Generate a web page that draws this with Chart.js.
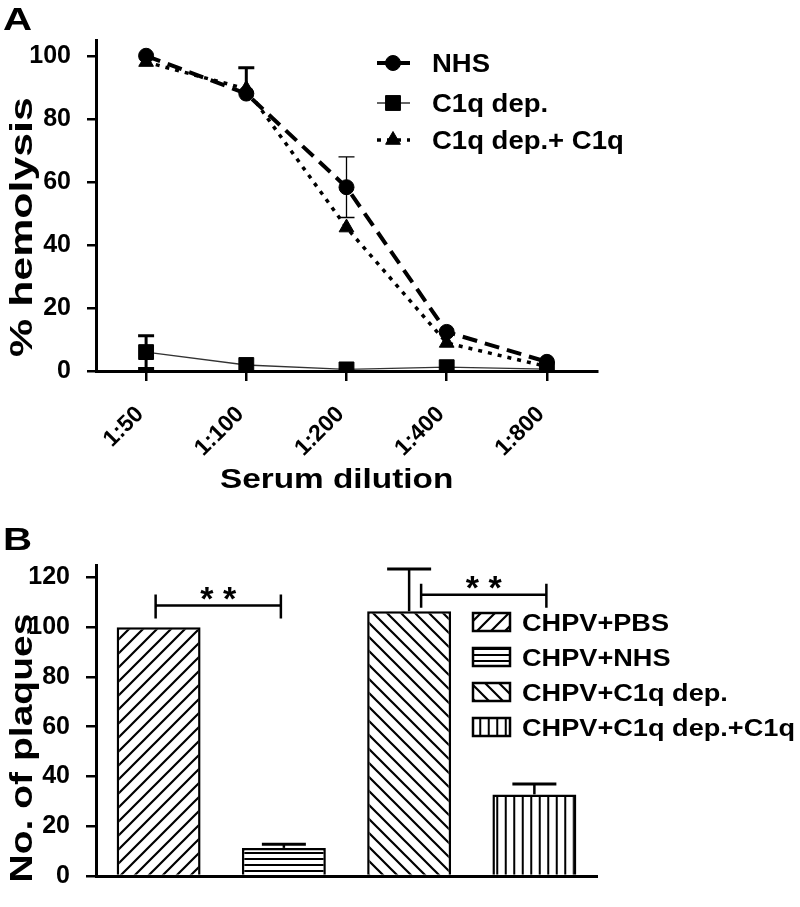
<!DOCTYPE html>
<html>
<head>
<meta charset="utf-8">
<script src="https://cdn.jsdelivr.net/npm/chart.js@4.4.1/dist/chart.umd.min.js"></script>
<style>
  body { margin: 0; background: #fff; }
  #wrapA { position: absolute; left: 0; top: 0; width: 800px; height: 520px; }
  #wrapB { position: absolute; left: 0; top: 520px; width: 800px; height: 387px; }
</style>
</head>
<body>
<div id="wrapA"><canvas id="chartA"></canvas></div>
<div id="wrapB"><canvas id="chartB"></canvas></div>
<script>
// Panel A: % hemolysis by serum dilution
const dilutions = ["1:50", "1:100", "1:200", "1:400", "1:800"];
const nhs = [100, 88, 58.3, 12.4, 2.9];
const c1qDep = [6, 1.9, 0.5, 1.2, 0.6];
const c1qDepC1q = [98, 89.5, 45.5, 8.9, 1.4];
const nhsErr = [0, 0, 9.6, 0, 0];
const c1qDepErr = [5.2, 0, 0, 0, 0];
const c1qDepC1qErrUp = [0, 6.7, 0, 0, 0];
const yTicksA = [0, 20, 40, 60, 80, 100];

// Panel B: number of plaques
const groupsB = ["CHPV+PBS", "CHPV+NHS", "CHPV+C1q dep.", "CHPV+C1q dep.+C1q"];
const plaques = [100, 11.3, 106.4, 32.8];
const plaquesErr = [0, 1.5, 17, 4.2];
const yTicksB = [0, 20, 40, 60, 80, 100, 120];
const sigPairs = [[0, 1, 108.7], [2, 3, 113]]; // bar a, bar b, bracket height

const FONT = '"Liberation Sans", Arial, sans-serif';
const black = "#000";
Chart.defaults.font.family = FONT;
Chart.defaults.color = black;

// bold text, optionally stretched along its length and rotated
function stretchText(ctx, txt, x, y, size, sx, rot, align) {
  ctx.save();
  ctx.translate(x, y);
  if (rot) ctx.rotate(rot);
  ctx.scale(sx, 1);
  ctx.font = "bold " + size + "px " + FONT;
  ctx.textAlign = align || "left";
  ctx.textBaseline = "alphabetic";
  ctx.fillStyle = black;
  ctx.fillText(txt, 0, 0);
  ctx.restore();
}

function makePattern(kind) {
  const c = document.createElement("canvas");
  const s = kind === "horiz" ? 6 : (kind === "vert" ? 17 : 14);
  c.width = s; c.height = s;
  const g = c.getContext("2d");
  g.fillStyle = "#fff";
  g.fillRect(0, 0, s, s);
  g.strokeStyle = black;
  g.lineWidth = 2.2;
  g.beginPath();
  if (kind === "fwd") {
    g.moveTo(-2, s + 2); g.lineTo(s + 2, -2);
    g.moveTo(-2, 2); g.lineTo(2, -2);
    g.moveTo(s - 2, s + 2); g.lineTo(s + 2, s - 2);
  } else if (kind === "back") {
    g.moveTo(-2, -2); g.lineTo(s + 2, s + 2);
    g.moveTo(s - 2, -2); g.lineTo(s + 2, 2);
    g.moveTo(-2, s - 2); g.lineTo(2, s + 2);
  } else if (kind === "horiz") {
    g.lineWidth = 2;
    g.moveTo(0, 3); g.lineTo(s, 3);
  } else {
    g.lineWidth = 2;
    g.moveTo(4.25, 0); g.lineTo(4.25, s);
    g.moveTo(12.75, 0); g.lineTo(12.75, s);
  }
  g.stroke();
  return g.createPattern(c, "repeat");
}
const patternsB = [makePattern("fwd"), makePattern("horiz"), makePattern("back"), makePattern("vert")];

const axisBorder = { color: black, width: 3 };
const tickFont = { family: FONT, size: 25, weight: "bold" };

// ---------- chart A ----------
const errorBarsA = {
  id: "errorBarsA",
  beforeDatasetsDraw(chart) {
    const ctx = chart.ctx, y = chart.scales.y;
    chart.data.datasets.forEach((ds, i) => {
      chart.getDatasetMeta(i).data.forEach((pt, j) => {
        const up = (ds.errUp || [])[j] || 0;
        const down = (ds.errDown || [])[j] || 0;
        if (!up && !down) return;
        const v = ds.data[j];
        const top = y.getPixelForValue(v + up), bot = y.getPixelForValue(v - down);
        ctx.save();
        ctx.strokeStyle = black;
        ctx.lineWidth = ds.errWidth;
        ctx.beginPath();
        ctx.moveTo(pt.x, top); ctx.lineTo(pt.x, bot);
        if (up) { ctx.moveTo(pt.x - 8, top); ctx.lineTo(pt.x + 8, top); }
        if (down) { ctx.moveTo(pt.x - 8, bot); ctx.lineTo(pt.x + 8, bot); }
        ctx.stroke();
        ctx.restore();
      });
    });
  }
};

const textA = {
  id: "textA",
  afterDraw(chart) {
    const ctx = chart.ctx;
    stretchText(ctx, "A", 3, 30, 31, 1.3);
    stretchText(ctx, "% hemolysis", 32, 227, 32, 1.34, -Math.PI / 2, "center");
    stretchText(ctx, "Serum dilution", 220, 488, 28, 1.19);
    const rows = [63, 103, 140];
    chart.data.datasets.forEach((ds, i) => {
      const yy = rows[i];
      ctx.save();
      ctx.strokeStyle = ds.borderColor;
      ctx.lineWidth = ds.borderWidth;
      ctx.setLineDash(ds.borderDash || []);
      ctx.beginPath();
      ctx.moveTo(377, yy); ctx.lineTo(410, yy);
      ctx.stroke();
      ctx.setLineDash([]);
      ctx.fillStyle = black;
      ctx.strokeStyle = black;
      ctx.lineWidth = 1;
      Chart.helpers.drawPoint(ctx, { pointStyle: ds.pointStyle, radius: ds.pointRadius, borderWidth: 1, rotation: 0 }, 393, yy);
      ctx.restore();
      stretchText(ctx, ds.label, 432, yy + 9, 25, 1.1);
    });
  }
};

new Chart(document.getElementById("chartA"), {
  type: "line",
  data: {
    labels: dilutions,
    datasets: [
      {
        label: "NHS",
        data: nhs,
        errUp: nhsErr, errDown: nhsErr, errWidth: 1.3,
        borderColor: black, backgroundColor: black,
        borderWidth: 4, borderDash: [15, 8],
        pointStyle: "circle", pointRadius: 7.5,
        pointBackgroundColor: black, pointBorderColor: black, pointBorderWidth: 1
      },
      {
        label: "C1q dep.",
        data: c1qDep,
        errUp: c1qDepErr, errDown: c1qDepErr, errWidth: 3,
        borderColor: "#333", backgroundColor: black,
        borderWidth: 1.3,
        pointStyle: "rect", pointRadius: 10.5,
        pointBackgroundColor: black, pointBorderColor: black, pointBorderWidth: 1
      },
      {
        label: "C1q dep.+ C1q",
        data: c1qDepC1q,
        errUp: c1qDepC1qErrUp, errWidth: 3,
        borderColor: black, backgroundColor: black,
        borderWidth: 3.5, borderDash: [4, 6],
        pointStyle: "triangle", pointRadius: 8.5,
        pointBackgroundColor: black, pointBorderColor: black, pointBorderWidth: 1
      }
    ]
  },
  options: {
    responsive: true,
    maintainAspectRatio: false,
    animation: false,
    layout: { padding: { left: 0, top: 40, right: 203, bottom: 0 } },
    plugins: { legend: { display: false }, tooltip: { enabled: false } },
    scales: {
      x: {
        type: "category",
        offset: true,
        border: axisBorder,
        grid: { drawOnChartArea: false, color: black, lineWidth: 2.5, tickLength: 10 },
        ticks: { color: black, font: { family: FONT, size: 23, weight: "bold" }, minRotation: 45, maxRotation: 45, padding: 20, labelOffset: -6, autoSkip: false },
        afterFit: (axis) => { axis.height = 149; }
      },
      y: {
        min: 0, max: 105,
        border: axisBorder,
        grid: { drawOnChartArea: false, color: black, lineWidth: 2.5, tickLength: 9 },
        ticks: { color: black, font: tickFont, padding: 16 },
        afterBuildTicks: (axis) => { axis.ticks = yTicksA.map(v => ({ value: v })); },
        afterFit: (axis) => { axis.width = 96; }
      }
    }
  },
  plugins: [errorBarsA, textA]
});

// ---------- chart B ----------
const extrasB = {
  id: "extrasB",
  afterDatasetsDraw(chart) {
    const ctx = chart.ctx, x = chart.scales.x, y = chart.scales.y;
    const ds = chart.data.datasets[0];
    ctx.save();
    ctx.strokeStyle = black;
    chart.getDatasetMeta(0).data.forEach((bar, j) => {
      const e = ds.err[j];
      if (!e) return;
      const capY = y.getPixelForValue(ds.data[j] + e);
      ctx.lineWidth = 2.5;
      ctx.beginPath(); ctx.moveTo(bar.x, bar.y); ctx.lineTo(bar.x, capY); ctx.stroke();
      ctx.lineWidth = 3;
      ctx.beginPath(); ctx.moveTo(bar.x - 22, capY); ctx.lineTo(bar.x + 22, capY); ctx.stroke();
    });
    // significance brackets
    const shifts = [-3, 12];
    sigPairs.forEach((p, k) => {
      const x1 = x.getPixelForValue(p[0]) + shifts[k];
      const x2 = x.getPixelForValue(p[1]) + shifts[k];
      const yy = y.getPixelForValue(p[2]);
      ctx.lineWidth = 2.5;
      ctx.beginPath();
      ctx.moveTo(x1, yy); ctx.lineTo(x2, yy);
      ctx.moveTo(x1, yy - 11); ctx.lineTo(x1, yy + 13);
      ctx.moveTo(x2, yy - 11); ctx.lineTo(x2, yy + 13);
      ctx.stroke();
      stretchText(ctx, "* *", (x1 + x2) / 2, yy + 4, 34, 1, 0, "center");
    });
    ctx.restore();
  },
  afterDraw(chart) {
    const ctx = chart.ctx;
    stretchText(ctx, "B", 3, 30, 31, 1.3);
    stretchText(ctx, "No. of plaques", 32, 228, 32, 1.22, -Math.PI / 2, "center");
    const rows = [111, 146, 181, 216];
    const ds = chart.data.datasets[0];
    chart.data.labels.forEach((lab, i) => {
      const base = rows[i];
      ctx.save();
      ctx.fillStyle = ds.backgroundColor[i];
      ctx.fillRect(473, base - 18, 37, 18);
      ctx.strokeStyle = black;
      ctx.lineWidth = 2.5;
      ctx.strokeRect(473, base - 18, 37, 18);
      ctx.restore();
      stretchText(ctx, lab, 522, base, 23, 1.18);
    });
  }
};

new Chart(document.getElementById("chartB"), {
  type: "bar",
  data: {
    labels: groupsB,
    datasets: [{
      data: plaques,
      err: plaquesErr,
      backgroundColor: patternsB,
      borderColor: black,
      borderWidth: 2.5,
      categoryPercentage: 1,
      barPercentage: 0.67
    }]
  },
  options: {
    responsive: true,
    maintainAspectRatio: false,
    animation: false,
    layout: { padding: { left: 0, top: 45, right: 203, bottom: 11 } },
    plugins: { legend: { display: false }, tooltip: { enabled: false } },
    scales: {
      x: {
        border: axisBorder,
        grid: { drawOnChartArea: false, drawTicks: false },
        ticks: { display: false },
        afterFit: (axis) => { axis.height = 0; }
      },
      y: {
        min: 0, max: 125,
        border: axisBorder,
        grid: { drawOnChartArea: false, color: black, lineWidth: 2.5, tickLength: 10 },
        ticks: { color: black, font: tickFont, padding: 16 },
        afterBuildTicks: (axis) => { axis.ticks = yTicksB.map(v => ({ value: v })); },
        afterFit: (axis) => { axis.width = 96; }
      }
    }
  },
  plugins: [extrasB]
});
</script>
</body>
</html>
